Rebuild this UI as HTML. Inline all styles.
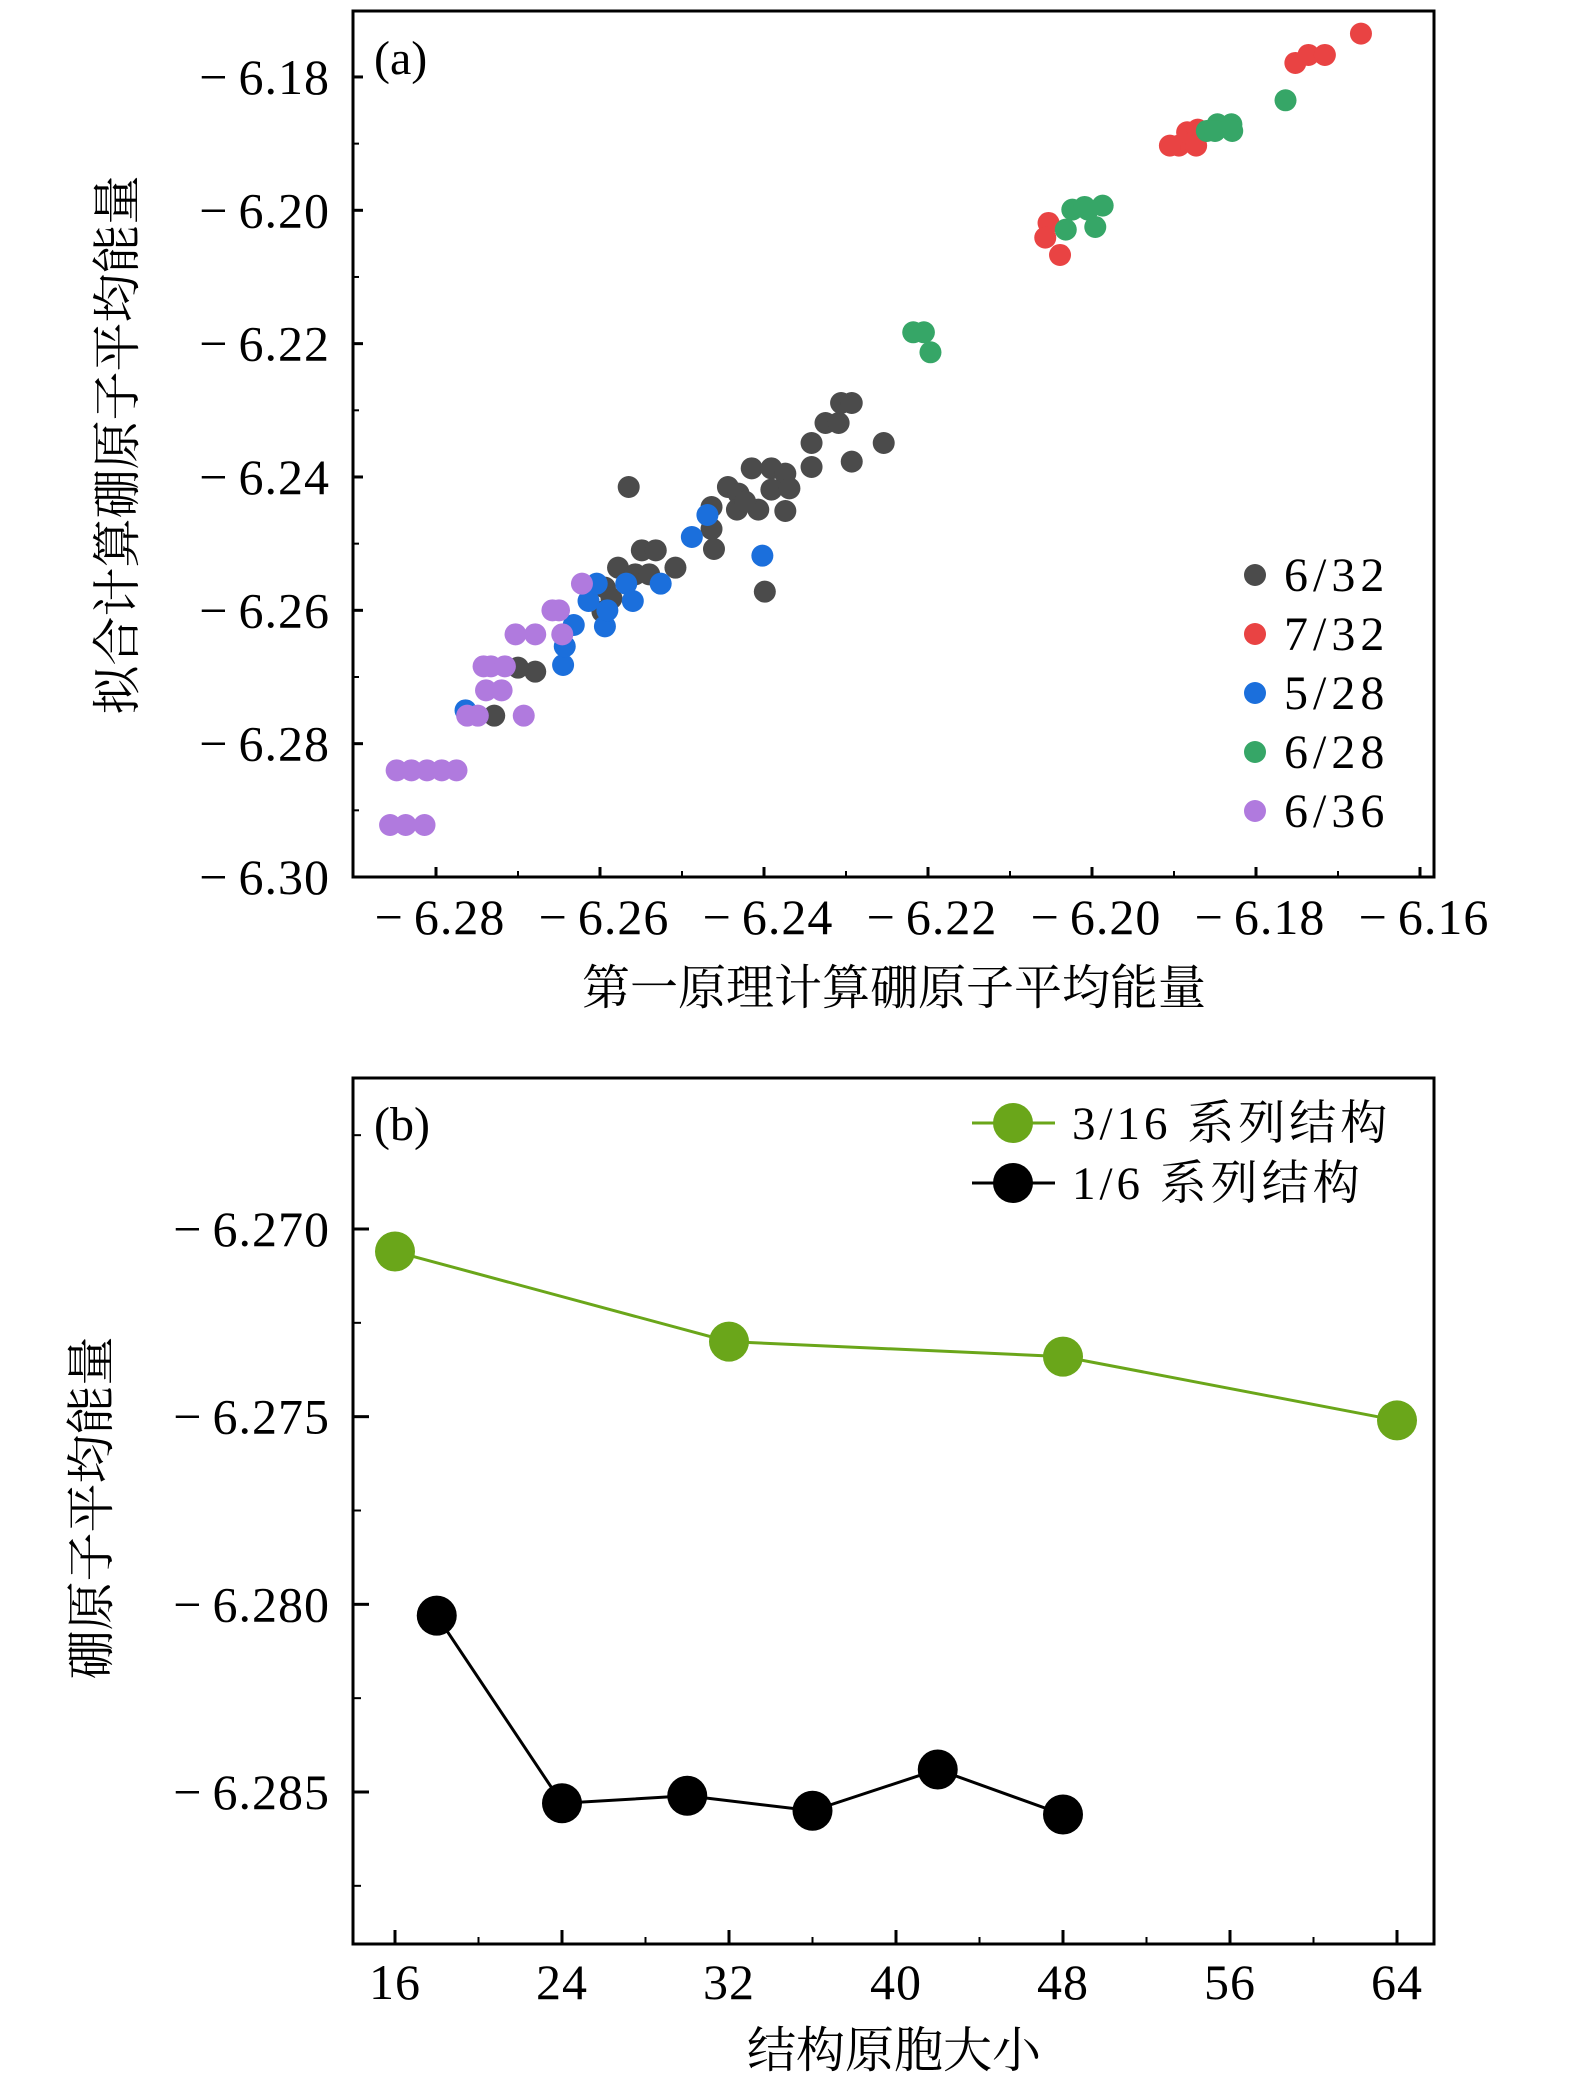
<!DOCTYPE html>
<html><head><meta charset="utf-8">
<style>
html,body{margin:0;padding:0;background:#fff;}
svg{display:block;}
text{font-family:"Liberation Serif","Noto Serif CJK SC",serif;fill:#000;}
.cjk{font-family:"Liberation Serif","Noto Serif CJK SC","Noto Sans CJK SC",serif;}
</style></head>
<body>
<svg id="chart" width="1575" height="2096" viewBox="0 0 1575 2096" xmlns="http://www.w3.org/2000/svg">
<g id="pa"></g>
<g id="pb"></g>
</svg>
<script>
// ---------- Panel (a) data ----------
const seriesNamesA = ["6/32","7/32","5/28","6/28","6/36"];
const seriesColorsA = ["#4b4b4b","#e94343","#1b6fdc","#36a667","#b07ade"];
const x632 = [-6.2565,-6.2729,-6.2679,-6.2700,-6.2578,-6.2549,-6.2532,-6.2557,-6.2540,-6.2508,-6.2461,-6.2464,-6.2464,-6.2444,-6.2431,-6.2415,-6.2391,-6.2374,-6.2391,-6.2407,-6.2433,-6.2423,-6.2374,-6.2369,-6.2342,-6.2342,-6.2325,-6.2309,-6.2306,-6.2293,-6.2293,-6.2254,-6.2399,-6.2594,-6.2597,-6.2586];
const y632 = [-6.2415,-6.2758,-6.2692,-6.2686,-6.2536,-6.2510,-6.2510,-6.2546,-6.2546,-6.2536,-6.2508,-6.2478,-6.2445,-6.2415,-6.2425,-6.2387,-6.2387,-6.2395,-6.2419,-6.2449,-6.2449,-6.2437,-6.2451,-6.2417,-6.2349,-6.2385,-6.2319,-6.2319,-6.2289,-6.2289,-6.2377,-6.2349,-6.2572,-6.2566,-6.2602,-6.2582];
const x732 = [-6.1672,-6.1752,-6.1736,-6.1716,-6.1894,-6.1884,-6.1871,-6.1873,-6.1905,-6.2053,-6.2057,-6.2039];
const y732 = [-6.1735,-6.1779,-6.1767,-6.1767,-6.1903,-6.1883,-6.1879,-6.1903,-6.1903,-6.2019,-6.2041,-6.2067];
const x528 = [-6.2764,-6.2645,-6.2643,-6.2632,-6.2594,-6.2591,-6.2614,-6.2604,-6.2568,-6.2560,-6.2526,-6.2488,-6.2469,-6.2402];
const y528 = [-6.2750,-6.2682,-6.2654,-6.2622,-6.2624,-6.2600,-6.2586,-6.2560,-6.2560,-6.2586,-6.2560,-6.2490,-6.2457,-6.2518];
const x628 = [-6.1764,-6.1860,-6.1847,-6.1830,-6.1829,-6.1850,-6.2218,-6.2205,-6.2197,-6.2024,-6.2009,-6.1987,-6.2032,-6.1996,-6.2005];
const y628 = [-6.1835,-6.1881,-6.1871,-6.1871,-6.1881,-6.1881,-6.2183,-6.2183,-6.2213,-6.1999,-6.1995,-6.1993,-6.2029,-6.2025,-6.1999];
const x636 = [-6.2856,-6.2837,-6.2814,-6.2848,-6.2830,-6.2811,-6.2793,-6.2775,-6.2762,-6.2749,-6.2693,-6.2739,-6.2720,-6.2733,-6.2716,-6.2703,-6.2679,-6.2658,-6.2650,-6.2646,-6.2622,-6.2742];
const y636 = [-6.2922,-6.2922,-6.2922,-6.2840,-6.2840,-6.2840,-6.2840,-6.2840,-6.2758,-6.2758,-6.2758,-6.2720,-6.2720,-6.2684,-6.2684,-6.2636,-6.2636,-6.2600,-6.2600,-6.2636,-6.2560,-6.2684];
const xTicksA = [-6.28,-6.26,-6.24,-6.22,-6.20,-6.18,-6.16];
const xTickLabelsA = ["−6.28","−6.26","−6.24","−6.22","−6.20","−6.18","−6.16"];
const yTicksA = [-6.30,-6.28,-6.26,-6.24,-6.22,-6.20,-6.18];
const yTickLabelsA = ["−6.30","−6.28","−6.26","−6.24","−6.22","−6.20","−6.18"];

// ---------- Panel (b) data ----------
const sizesGreen = [16,32,48,64];
const energyGreen = [-6.2706,-6.2730,-6.2734,-6.2751];
const sizesBlack = [18,24,30,36,42,48];
const energyBlack = [-6.2803,-6.2853,-6.2851,-6.2855,-6.2844,-6.2856];
const xTicksB = [16,24,32,40,48,56,64];
const xTickLabelsB = ["16","24","32","40","48","56","64"];
const yTicksB = [-6.270,-6.275,-6.280,-6.285];
const yTickLabelsB = ["−6.270","−6.275","−6.280","−6.285"];

const NS="http://www.w3.org/2000/svg";
function mk(parent,tag,attrs,txt){const e=document.createElementNS(NS,tag);for(const k in attrs)e.setAttribute(k,attrs[k]);if(txt!==undefined)e.textContent=txt;parent.appendChild(e);return e;}
// numeric label with gap after minus sign
function numLabel(parent,x,y,str,anchor){
  const t=mk(parent,'text',{x:x,y:y,'font-size':50,'text-anchor':anchor,'letter-spacing':1});
  if(str[0]==='−'){
    mk(t,'tspan',{},'−');
    mk(t,'tspan',{dx:10},str.slice(1));
  } else t.textContent=str;
  return t;
}

// ---- panel a ----
const A={L:353,R:1434,T:11,B:877};
const ax=v=>436+(v+6.28)*8200;
const ay=v=>877-(v+6.30)*6667;
const pa=document.getElementById('pa');
const seriesA=[[x632,y632],[x732,y732],[x528,y528],[x628,y628],[x636,y636]];
seriesA.forEach((s,si)=>{
  const g=mk(pa,'g',{});
  
  
  s[0].forEach((xv,i)=>{
    const c=mk(g,'circle',{cx:ax(xv),cy:ay(s[1][i]),r:11,fill:seriesColorsA[si]});
    
    
  });
});
const fa=mk(pa,'rect',{x:A.L,y:A.T,width:A.R-A.L,height:A.B-A.T,fill:'none',stroke:'#000','stroke-width':3});


xTicksA.forEach((v,i)=>{
  const x=ax(v);
  mk(pa,'line',{x1:x,x2:x,y1:A.B,y2:A.B-10,stroke:'#000','stroke-width':3});
  if(i<xTicksA.length-1){const xm=ax(v+0.01);mk(pa,'line',{x1:xm,x2:xm,y1:A.B,y2:A.B-6,stroke:'#000','stroke-width':2});}
  const t=numLabel(pa,x+4,934,xTickLabelsA[i],'middle');
  
  
});
yTicksA.forEach((v,i)=>{
  const y=ay(v);
  mk(pa,'line',{x1:A.L,x2:A.L+10,y1:y,y2:y,stroke:'#000','stroke-width':3});
  if(i<yTicksA.length-1){const ym=ay(v+0.01);mk(pa,'line',{x1:A.L,x2:A.L+6,y1:ym,y2:ym,stroke:'#000','stroke-width':2});}
  const t=numLabel(pa,330,y+17,yTickLabelsA[i],'end');
  
  
});
const lgA=mk(pa,'g',{});


seriesNamesA.forEach((n,i)=>{
  const y=575+i*59;
  const g=mk(lgA,'g',{});
  
  
  mk(g,'circle',{cx:1255,cy:y,r:11,fill:seriesColorsA[i]});
  mk(g,'text',{x:1284,y:y+16,'font-size':48,'letter-spacing':5},n);
});
</script>
<script>
// labels/static for panel a
(function(){
const pa=document.getElementById('pa');
let t=mk(pa,'text',{x:374,y:74,'font-size':48},'(a)');


t=mk(pa,'text',{x:894,y:1004,'font-size':48,'text-anchor':'middle',class:'cjk'},'第一原理计算硼原子平均能量');


t=mk(pa,'text',{x:0,y:0,'font-size':49,'text-anchor':'middle',class:'cjk',transform:'translate(134,445) rotate(-90)'},'拟合计算硼原子平均能量');


})();

// ---- panel b ----
(function(){
const B={L:353,R:1434,T:1078,B:1944};
const bx=v=>395+(v-16)*20.875;
const by=v=>1229-(v+6.270)*37533;
const pb=document.getElementById('pb');
const fb=mk(pb,'rect',{x:B.L,y:B.T,width:B.R-B.L,height:B.B-B.T,fill:'none',stroke:'#000','stroke-width':3});


xTicksB.forEach((v,i)=>{
  const x=bx(v);
  mk(pb,'line',{x1:x,x2:x,y1:B.B,y2:B.B-14,stroke:'#000','stroke-width':3});
  if(i<xTicksB.length-1){const xm=bx(v+4);mk(pb,'line',{x1:xm,x2:xm,y1:B.B,y2:B.B-7,stroke:'#000','stroke-width':2});}
  const t=numLabel(pb,x,1999,xTickLabelsB[i],'middle');
  
  
});
yTicksB.forEach((v,i)=>{
  const y=by(v);
  mk(pb,'line',{x1:B.L,x2:B.L+16,y1:y,y2:y,stroke:'#000','stroke-width':3});
  const t=numLabel(pb,330,y+17,yTickLabelsB[i],'end');
  
  
});
[-6.2675,-6.2725,-6.2775,-6.2825,-6.2875].forEach(v=>{const y=by(v);mk(pb,'line',{x1:B.L,x2:B.L+8,y1:y,y2:y,stroke:'#000','stroke-width':2});});
function series(xs,ys,color,name){
  const g=mk(pb,'g',{});
  
  
  const pts=xs.map((x,i)=>bx(x)+','+by(ys[i])).join(' ');
  mk(g,'polyline',{points:pts,fill:'none',stroke:color,'stroke-width':3});
  xs.forEach((x,i)=>{
    const c=mk(g,'circle',{cx:bx(x),cy:by(ys[i]),r:20,fill:color});
    
    
  });
}
series(sizesGreen,energyGreen,'#6aa61a','series-3-16');
series(sizesBlack,energyBlack,'#000','series-1-6');
const lg=mk(pb,'g',{});


[['#6aa61a','3/16 系列结构',1123],['#000','1/6 系列结构',1183]].forEach(e=>{
  const g=mk(lg,'g',{});
  
  
  mk(g,'line',{x1:972,x2:1055,y1:e[2],y2:e[2],stroke:e[0],'stroke-width':3});
  mk(g,'circle',{cx:1013,cy:e[2],r:20,fill:e[0]});
  mk(g,'text',{x:1072,y:e[2]+16,'font-size':47,'letter-spacing':4,class:'cjk','xml:space':'preserve'},e[1].replace(' ','  '));
});
let t=mk(pb,'text',{x:374,y:1140,'font-size':48},'(b)');


t=mk(pb,'text',{x:894,y:2067,'font-size':49,'text-anchor':'middle',class:'cjk'},'结构原胞大小');


t=mk(pb,'text',{x:0,y:0,'font-size':49,'text-anchor':'middle',class:'cjk',transform:'translate(108,1508) rotate(-90)'},'硼原子平均能量');


})();
</script>
</body></html>
